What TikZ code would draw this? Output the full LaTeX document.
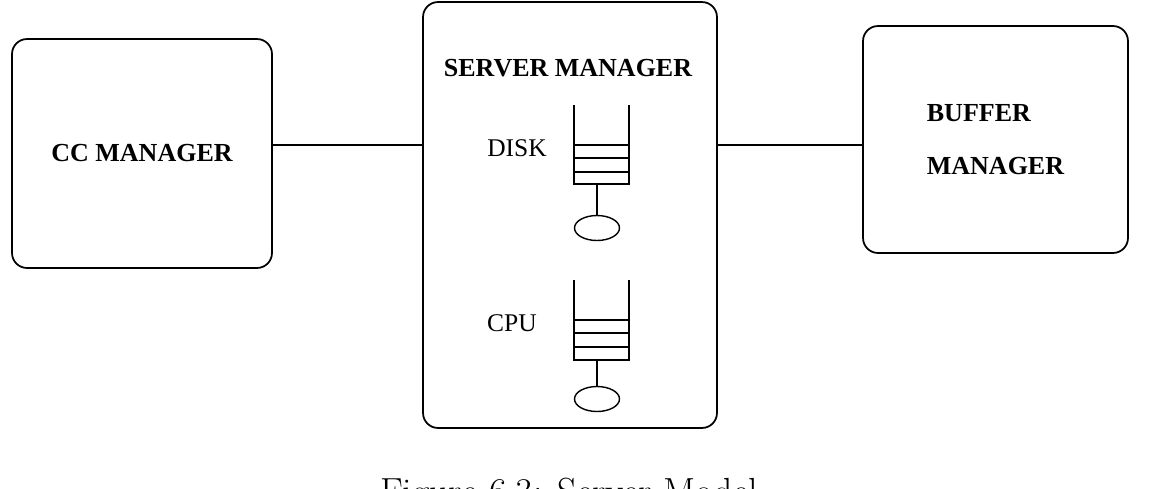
\documentclass[tikz,border=0pt]{standalone}
\usepackage{fontspec}
\newfontfamily\tms{Liberation Serif}
\usetikzlibrary{shapes.geometric}
\tikzset{
  manager/.style={
    draw,
    rounded corners=0.3cm,
    line width=1pt,
    inner sep=0pt,
    font=\tms\bfseries\fontsize{14.8}{30}\selectfont
  },
  queue/.style={line width=0.8pt},
  server/.style={
    ellipse,
    draw,
    line width=0.8pt,
    inner sep=0pt,
    minimum width=0.9cm,
    minimum height=0.5cm
  },
  heading/.style={font=\tms\bfseries\fontsize{14.8}{18}\selectfont},
  label/.style={font=\tms\fontsize{14.5}{18}\selectfont},
  caption/.style={font=\fontsize{21.5}{26}\selectfont}
}

\begin{document}
\begin{tikzpicture}[x=0.02cm,y=-0.02cm]
  \useasboundingbox (0,0) rectangle (1150,488);

  % Left box.
  \node[manager,minimum width=5.2cm,minimum height=4.58cm] (cc) at (142,153.5)
    {CC MANAGER};

  % Middle box with its two queues.
  \node[manager,minimum width=5.88cm,minimum height=8.52cm] (srv) at (570,215) {};
  \node[heading] (srvlbl) at (568,68) {SERVER MANAGER};

  \node[label] (disk) at (517,148) {DISK};
  \draw[queue] (574,105) -- (574,184) -- (629,184) -- (629,105);
  \draw[queue] (574,145) -- (629,145);
  \draw[queue] (574,158) -- (629,158);
  \draw[queue] (574,172) -- (629,172);
  \coordinate (dq) at (597,184);
  \node[server] (dsk) at (597,228) {};
  \draw[queue] (dq) -- (dsk);

  \node[label] (cpu) at (512,323) {CPU};
  \draw[queue] (574,280) -- (574,360) -- (629,360) -- (629,280);
  \draw[queue] (574,320) -- (629,320);
  \draw[queue] (574,333) -- (629,333);
  \draw[queue] (574,347) -- (629,347);
  \coordinate (cq) at (597,360);
  \node[server] (cpusrv) at (597,399) {};
  \draw[queue] (cq) -- (cpusrv);

  % Right box.
  \node[manager,align=left,minimum width=5.3cm,minimum height=4.54cm] (buf)
    at (995.5,139.5) {BUFFER\\MANAGER};

  % Links.
  \draw[line width=1pt] ([yshift=0.17cm]cc.east) -- ([yshift=0.17cm]cc.east -| srv.west);
  \draw[line width=1pt] ([yshift=0.17cm]cc.east -| srv.east) -- ([yshift=0.17cm]cc.east -| buf.west);

  % Caption, cut by the lower edge.
  \node[caption,anchor=base] (cap) at (569,504) {Figure 6.3: Server Model};
\end{tikzpicture}
\end{document}
